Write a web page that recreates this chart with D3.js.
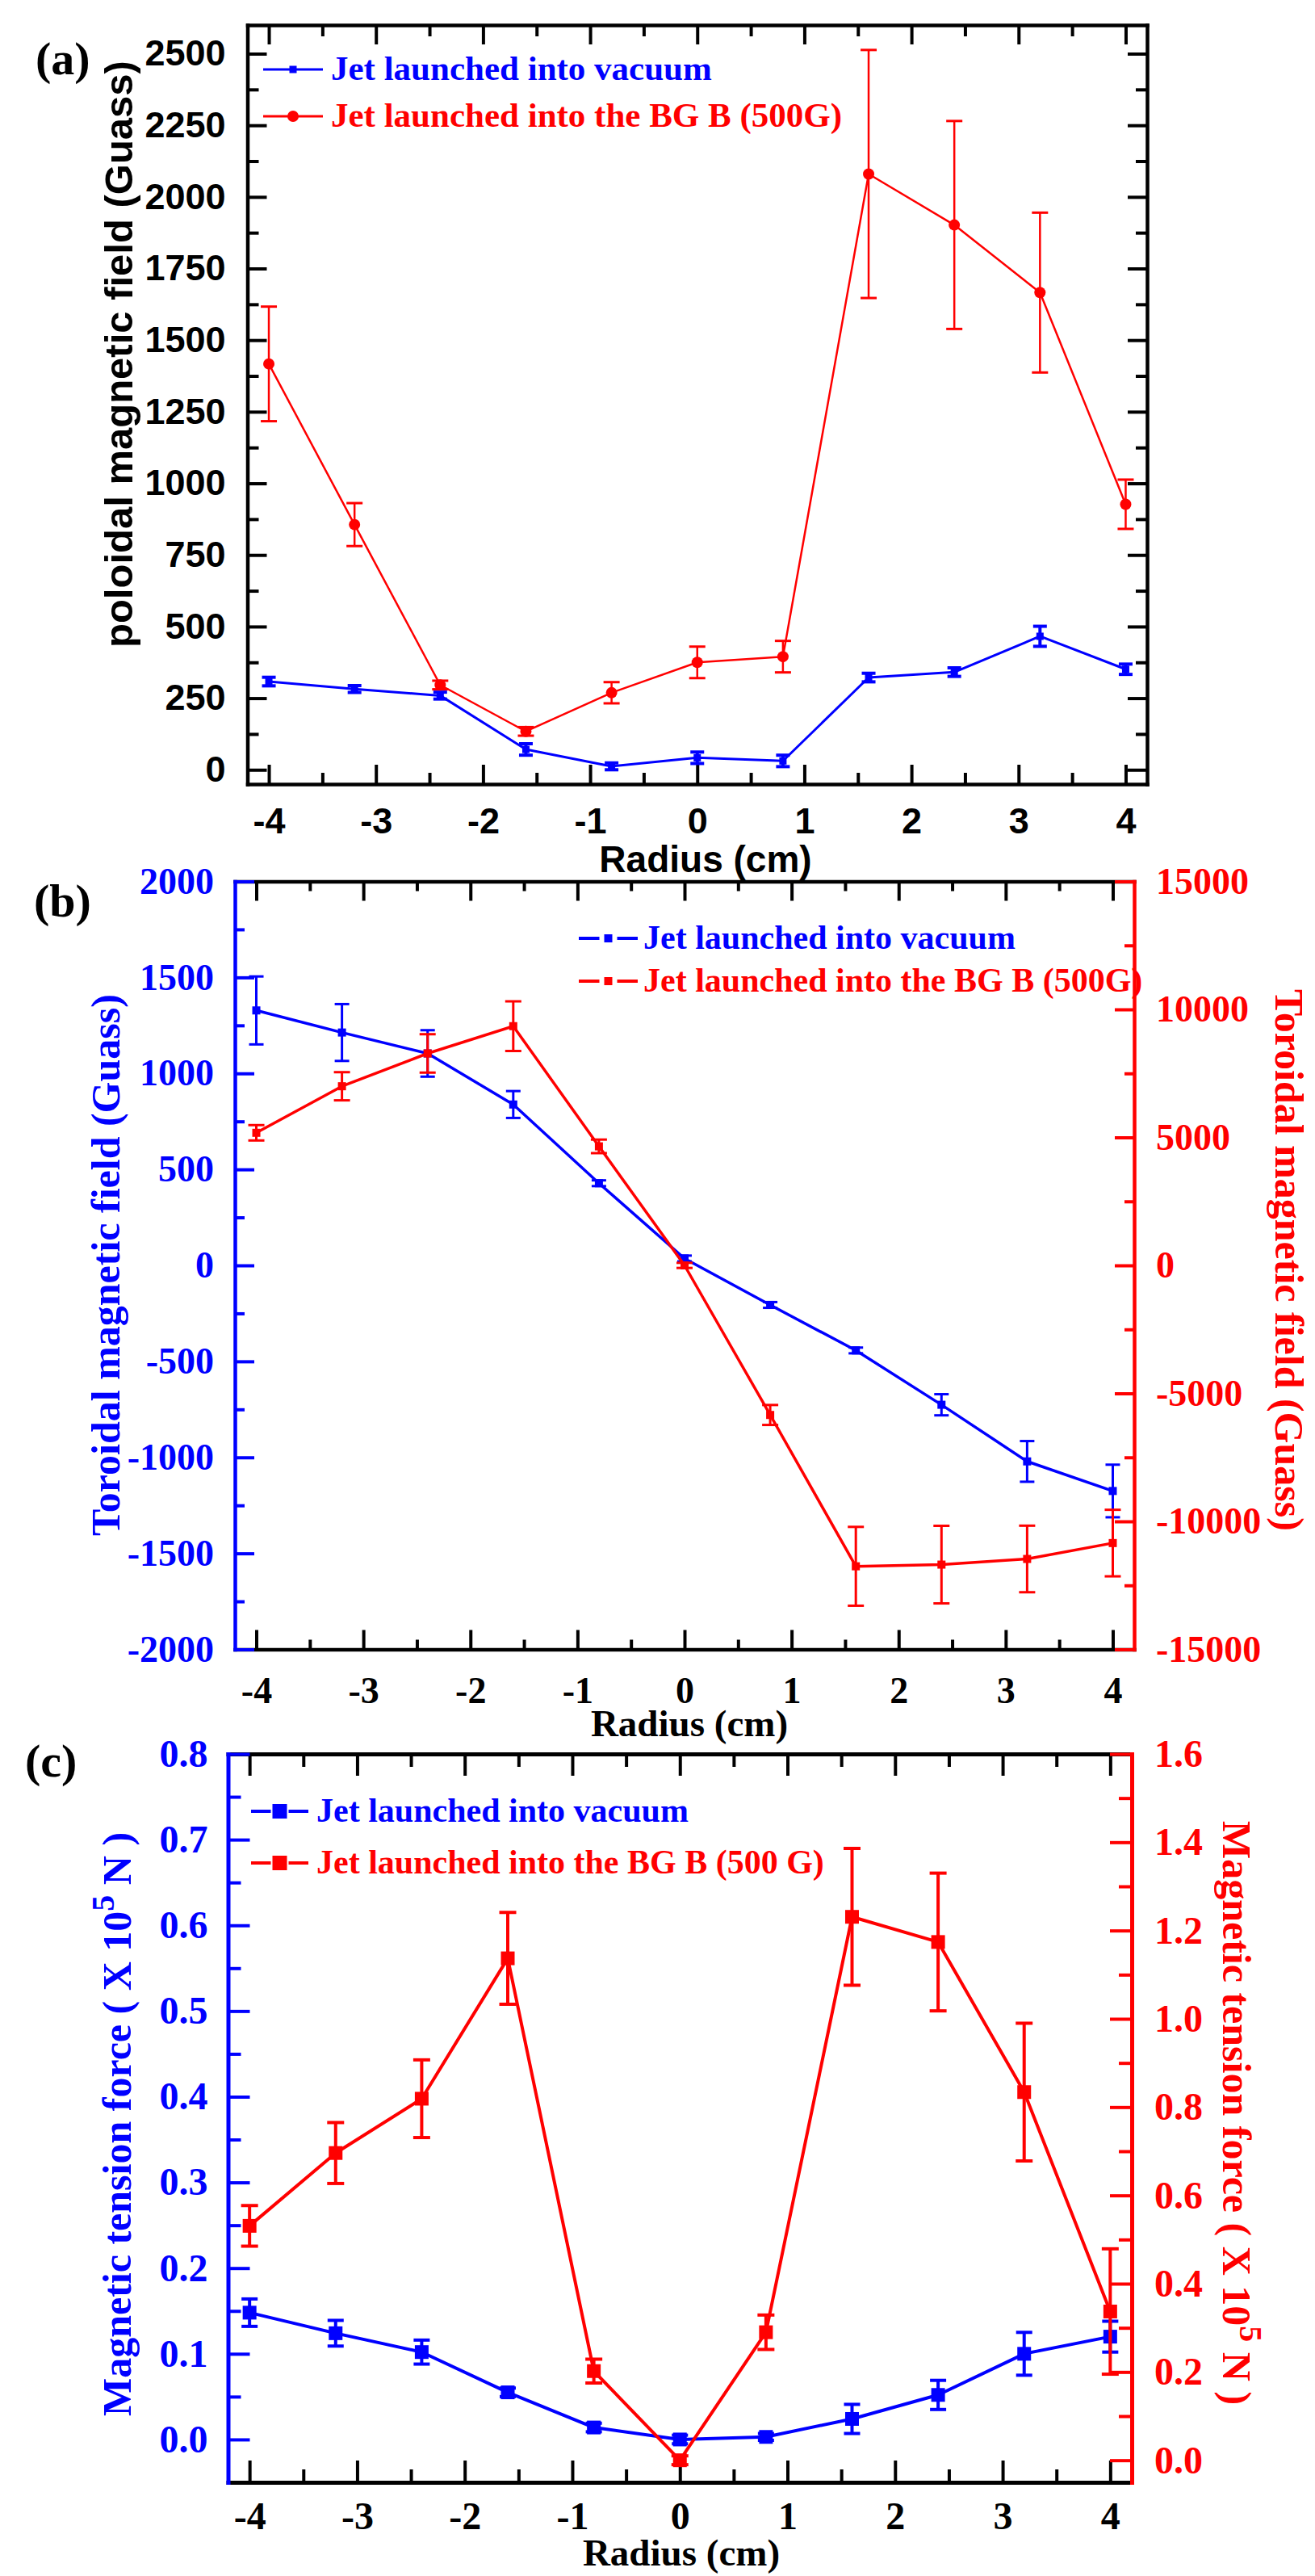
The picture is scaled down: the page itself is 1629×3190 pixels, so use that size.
<!DOCTYPE html>
<html>
<head>
<meta charset="utf-8">
<script src="https://cdn.jsdelivr.net/npm/d3@7"></script>
<style>
  body { margin: 0; background: #fff; }
  svg { display: block; }
</style>
</head>
<body>
<div id="chart"></div>
<script>
// radius positions shared by all three panels
const radius = [-4, -3.2, -2.4, -1.6, -0.8, 0, 0.8, 1.6, 2.4, 3.2, 4];
const radiusTicks = [-4, -3, -2, -1, 0, 1, 2, 3, 4];

// (a) poloidal field
const polVac = [308, 282, 259, 71, 12, 42, 31, 322, 341, 466, 351];
const polVacErr = [15, 12, 12, 20, 12, 20, 20, 15, 15, 35, 18];
const polBG = [1417, 856, 296, 134, 269, 375, 395, 2080, 1902, 1666, 927];
const polBGErr = [200, 75, 15, 15, 37, 55, 55, 433, 363, 279, 86];
const polTicks = [0, 250, 500, 750, 1000, 1250, 1500, 1750, 2000, 2250, 2500];

// (b) toroidal field
const torVac = [1328, 1213, 1104, 838, 428, 36, -206, -443, -726, -1021, -1175];
const torVacErr = [177, 148, 121, 70, 15, 15, 15, 15, 55, 106, 137];
const torBG = [5180, 6998, 8281, 9345, 4650, 0, -5843, -11755, -11689, -11468, -10847];
const torBGErr = [300, 550, 750, 970, 265, 100, 390, 1540, 1515, 1300, 1300];
const torLeftTicks = [-2000, -1500, -1000, -500, 0, 500, 1000, 1500, 2000];
const torRightTicks = [-15000, -10000, -5000, 0, 5000, 10000, 15000];

// (c) magnetic tension force
const tenVac = [0.148, 0.124, 0.102, 0.055, 0.014, 0.0, 0.003, 0.024, 0.052, 0.1, 0.12];
const tenVacErr = [0.016, 0.015, 0.014, 0.005, 0.005, 0.005, 0.004, 0.017, 0.017, 0.025, 0.018];
const tenBG = [0.531, 0.696, 0.819, 1.137, 0.202, 0.0, 0.29, 1.231, 1.174, 0.834, 0.337];
const tenBGErr = [0.046, 0.069, 0.088, 0.104, 0.027, 0.01, 0.039, 0.155, 0.156, 0.156, 0.142];
const tenLeftTicks = [0, 0.1, 0.2, 0.3, 0.4, 0.5, 0.6, 0.7, 0.8];
const tenRightTicks = [0, 0.2, 0.4, 0.6, 0.8, 1.0, 1.2, 1.4, 1.6];

const BLUE = '#0000ff', RED = '#ff0000', BLACK = '#000';
const SANS = "'Liberation Sans', Arial, sans-serif";
const SERIF = "'Liberation Serif', 'Times New Roman', serif";

// plain hyphen minus like the original plot
const fmtInt = d => String(d);
const fmt1 = d => d.toFixed(1);

const svg = d3.select('#chart').append('svg').attr('width', 1629).attr('height', 3190);

// minor ticks halfway between majors
function halves(ticks) {
    let out = [];
    for (let i = 0; i < ticks.length - 1; i++) out.push((ticks[i] + ticks[i + 1]) / 2);
    return out;
}

function styleAxis(g, color, lw, font, fs) {
    g.select('.domain').attr('stroke', color).attr('stroke-width', lw).attr('stroke-linecap', 'square');
    g.selectAll('.tick line').attr('stroke', color).attr('stroke-width', 4);
    g.selectAll('.tick text').attr('fill', color).attr('font-family', font)
        .attr('font-size', fs).attr('font-weight', 'bold');
}

// one axis: major ticks (labelled or not) + minor ticks, all pointing inward
function drawAxis(gen, scale, pos, major, fmt, color, o) {
    let g = svg.append('g').attr('transform', pos);
    g.call(gen(scale).tickValues(major).tickFormat(fmt).tickSizeInner(-o.major).tickSizeOuter(0).tickPadding(o.pad || 0));
    styleAxis(g, color, o.lw, o.font, o.fs);
    let gm = svg.append('g').attr('transform', pos);
    gm.call(gen(scale).tickValues(halves(major)).tickFormat('').tickSizeInner(-o.minor).tickSizeOuter(0));
    styleAxis(gm, color, o.lw, o.font, o.fs);
    gm.select('.domain').remove();
    return g;
}

function drawSeries(x, y, vals, errs, color, o) {
    let g = svg.append('g');
    let line = d3.line().x((d, i) => x(radius[i])).y(d => y(d));
    g.append('path').datum(vals).attr('d', line).attr('fill', 'none')
        .attr('stroke', color).attr('stroke-width', o.lw).attr('stroke-linejoin', 'round');

    let eb = g.selectAll('.eb').data(vals).enter().append('g');
    eb.append('line')
        .attr('x1', (d, i) => x(radius[i])).attr('x2', (d, i) => x(radius[i]))
        .attr('y1', (d, i) => y(d - errs[i])).attr('y2', (d, i) => y(d + errs[i]))
        .attr('stroke', color).attr('stroke-width', o.elw);
    [-1, 1].forEach(s => {
        eb.append('line')
            .attr('x1', (d, i) => x(radius[i]) - o.cap / 2).attr('x2', (d, i) => x(radius[i]) + o.cap / 2)
            .attr('y1', (d, i) => y(d + s * errs[i])).attr('y2', (d, i) => y(d + s * errs[i]))
            .attr('stroke', color).attr('stroke-width', o.clw);
    });
    if (o.marker === 'circle') {
        g.selectAll('circle').data(vals).enter().append('circle')
            .attr('cx', (d, i) => x(radius[i])).attr('cy', d => y(d))
            .attr('r', o.size / 2).attr('fill', color);
    } else {
        g.selectAll('rect').data(vals).enter().append('rect')
            .attr('x', (d, i) => x(radius[i]) - o.size / 2).attr('y', d => y(d) - o.size / 2)
            .attr('width', o.size).attr('height', o.size).attr('fill', color);
    }
}

function legendItem(x0, x1, y, color, text, o) {
    let mid = (x0 + x1) / 2;
    if (o.gap) {
        svg.append('line').attr('x1', x0).attr('x2', mid - o.size / 2 - o.gap).attr('y1', y).attr('y2', y)
            .attr('stroke', color).attr('stroke-width', o.lw);
        svg.append('line').attr('x1', mid + o.size / 2 + o.gap).attr('x2', x1).attr('y1', y).attr('y2', y)
            .attr('stroke', color).attr('stroke-width', o.lw);
    } else {
        svg.append('line').attr('x1', x0).attr('x2', x1).attr('y1', y).attr('y2', y)
            .attr('stroke', color).attr('stroke-width', o.lw);
    }
    if (o.marker === 'circle') {
        svg.append('circle').attr('cx', mid).attr('cy', y).attr('r', o.size / 2).attr('fill', color);
    } else {
        svg.append('rect').attr('x', mid - o.size / 2).attr('y', y - o.size / 2)
            .attr('width', o.size).attr('height', o.size).attr('fill', color);
    }
    svg.append('text').attr('x', o.tx).attr('y', y + o.fs * 0.31).attr('fill', color)
        .attr('font-family', SERIF).attr('font-weight', 'bold').attr('font-size', o.fs).text(text);
}

// rotated axis title, anchored at the point where the text starts
function label(x, y, rot, color, font, fs, parts) {
    let t = svg.append('text').attr('transform', `translate(${x},${y}) rotate(${rot})`)
        .attr('text-anchor', 'start').attr('fill', color).attr('font-family', font)
        .attr('font-weight', 'bold').attr('font-size', fs);
    parts.forEach(p => {
        let s = t.append('tspan').text(p.t);
        if (p.sup) s.attr('font-size', fs * 0.8).attr('baseline-shift', fs * 0.42);
    });
}

function panelTag(x, y, txt) {
    svg.append('text').attr('x', x).attr('y', y).attr('font-family', SERIF).attr('font-weight', 'bold')
        .attr('font-size', 58).attr('fill', BLACK).text(txt);
}

function xTitle(x, y, font, fs) {
    svg.append('text').attr('x', x).attr('y', y).attr('text-anchor', 'middle')
        .attr('font-family', font).attr('font-weight', 'bold').attr('font-size', fs).text('Radius (cm)');
}

// ---------------- panel (a) ----------------
{
    const L = 306.5, R = 1421, T = 31, B = 971;
    const x = d3.scaleLinear().domain([-4.2, 4.2]).range([L, R]);
    const y = d3.scaleLinear().domain([-50, 2600]).range([B, T]);
    const ax = { major: 24, minor: 14, lw: 4.5, font: SANS, fs: 45 };

    drawAxis(d3.axisTop, x, `translate(0,${T})`, radiusTicks, '', BLACK, ax);
    drawAxis(d3.axisBottom, x, `translate(0,${B})`, radiusTicks, fmtInt, BLACK, Object.assign({}, ax, { pad: 29 }));
    drawAxis(d3.axisRight, y, `translate(${R},0)`, polTicks, '', BLACK, ax);
    drawAxis(d3.axisLeft, y, `translate(${L},0)`, polTicks, fmtInt, BLACK, Object.assign({}, ax, { pad: 27 }));

    drawSeries(x, y, polVac, polVacErr, BLUE, { lw: 3, elw: 4, clw: 4, cap: 17, size: 9, marker: 'rect' });
    drawSeries(x, y, polBG, polBGErr, RED, { lw: 2.5, elw: 2.5, clw: 3, cap: 20, size: 14, marker: 'circle' });

    legendItem(326, 400, 86, BLUE, 'Jet launched into vacuum', { lw: 3, size: 9, marker: 'rect', tx: 410, fs: 43 });
    legendItem(326, 400, 144, RED, 'Jet launched into the BG B (500G)', { lw: 3, size: 14, marker: 'circle', tx: 410, fs: 43 });

    label(164, 802, -90, BLACK, SANS, 49, [{ t: 'poloidal magnetic field (Guass)' }]);
    xTitle(874, 1080, SANS, 46);
    panelTag(44, 92, '(a)');
}

// ---------------- panel (b) ----------------
{
    const L = 291, R = 1405, T = 1091.5, B = 2042.5;
    const x = d3.scaleLinear().domain([-4.2, 4.2]).range([L, R]);
    const y = d3.scaleLinear().domain([-2000, 2000]).range([B, T]);
    const y2 = d3.scaleLinear().domain([-15000, 15000]).range([B, T]);
    const ax = { major: 24, minor: 12, lw: 4.5, font: SERIF, fs: 46 };

    drawAxis(d3.axisTop, x, `translate(0,${T})`, radiusTicks, '', BLACK, ax);
    drawAxis(d3.axisBottom, x, `translate(0,${B})`, radiusTicks, fmtInt, BLACK, Object.assign({}, ax, { pad: 34 }));
    drawAxis(d3.axisRight, y2, `translate(${R},0)`, torRightTicks, fmtInt, RED, Object.assign({}, ax, { pad: 27 }));
    drawAxis(d3.axisLeft, y, `translate(${L},0)`, torLeftTicks, fmtInt, BLUE, Object.assign({}, ax, { pad: 26 }));

    drawSeries(x, y, torVac, torVacErr, BLUE, { lw: 3.5, elw: 3, clw: 3, cap: 18, size: 10, marker: 'rect' });
    drawSeries(x, y2, torBG, torBGErr, RED, { lw: 3.5, elw: 3, clw: 3, cap: 20, size: 10, marker: 'rect' });

    legendItem(717, 790, 1162, BLUE, 'Jet launched into vacuum', { lw: 4, size: 10, gap: 6, marker: 'rect', tx: 797, fs: 42 });
    legendItem(717, 790, 1215, RED, 'Jet launched into the BG B (500G)', { lw: 4, size: 10, gap: 6, marker: 'rect', tx: 797, fs: 42 });

    label(148, 1902, -90, BLUE, SERIF, 50, [{ t: 'Toroidal magnetic field (Guass)' }]);
    label(1580, 1225, 90, RED, SERIF, 50, [{ t: 'Toroidal magnetic field (Guass)' }]);
    xTitle(854, 2150, SERIF, 47);
    panelTag(42, 1135, '(b)');
}

// ---------------- panel (c) ----------------
{
    const L = 282.5, R = 1402, T = 2172, B = 3074;
    const x = d3.scaleLinear().domain([-4.2, 4.2]).range([L, R]);
    const y = d3.scaleLinear().domain([-0.05, 0.8]).range([B, T]);
    const y2 = d3.scaleLinear().domain([-0.05, 1.6]).range([B, T]);
    const ax = { major: 27, minor: 16, lw: 5, font: SERIF, fs: 48 };

    drawAxis(d3.axisTop, x, `translate(0,${T})`, radiusTicks, '', BLACK, ax);
    drawAxis(d3.axisBottom, x, `translate(0,${B})`, radiusTicks, fmtInt, BLACK, Object.assign({}, ax, { pad: 24 }));
    drawAxis(d3.axisRight, y2, `translate(${R},0)`, tenRightTicks, fmt1, RED, Object.assign({}, ax, { pad: 28 }));
    drawAxis(d3.axisLeft, y, `translate(${L},0)`, tenLeftTicks, fmt1, BLUE, Object.assign({}, ax, { pad: 25 }));

    drawSeries(x, y, tenVac, tenVacErr, BLUE, { lw: 4, elw: 4, clw: 4, cap: 20, size: 17, marker: 'rect' });
    drawSeries(x, y2, tenBG, tenBGErr, RED, { lw: 4, elw: 4, clw: 4, cap: 21, size: 17, marker: 'rect' });

    legendItem(311, 382, 2243, BLUE, 'Jet launched into vacuum', { lw: 4, size: 18, gap: 2, marker: 'rect', tx: 392, fs: 42 });
    legendItem(311, 382, 2307, RED, 'Jet launched into the BG B (500 G)', { lw: 4, size: 18, gap: 2, marker: 'rect', tx: 392, fs: 42 });

    const tens = [{ t: 'Magnetic tension force ( X 10' }, { t: '5', sup: true }, { t: ' N )' }];
    label(162, 2992, -90, BLUE, SERIF, 50, tens);
    label(1515, 2255, 90, RED, SERIF, 50, tens);
    xTitle(844, 3177, SERIF, 47);
    panelTag(31, 2200, '(c)');
}
</script>
</body>
</html>
